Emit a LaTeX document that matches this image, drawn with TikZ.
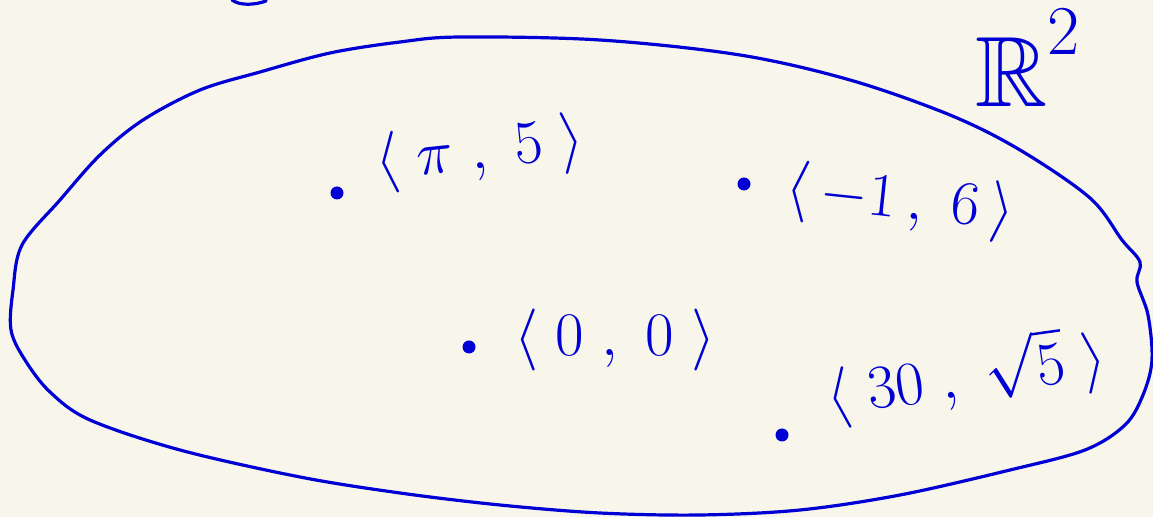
\RequirePackage{fix-cm}
\documentclass[tikz,border=0pt]{standalone}
\usepackage{amssymb}
\definecolor{ink}{RGB}{0,0,212}
\definecolor{paper}{RGB}{248,246,235}
\begin{document}
\begin{tikzpicture}[x=0.5pt,y=-0.5pt,line width=1.6pt,line cap=round,line join=round,
  dot/.style={circle,fill=ink,inner sep=0pt,minimum size=6.5pt},
  lbl/.style={text=ink,inner sep=0pt,font=\fontsize{31}{37}\selectfont}]
\fill[paper] (0,0) rectangle (1153,517);
\useasboundingbox (0,0) rectangle (1153,517);
\draw[ink] plot[smooth cycle,tension=.55] coordinates {(143,120) (200,90) (260,72) (330,53) (400,42) (460,37) (600,40) (740,55) (850,80) (950,115) (1020,150) (1090,198) (1122,240) (1140,262) (1137,282) (1148,315) (1152,360) (1143,395) (1125,425) (1085,450) (1010,470) (900,495) (800,510) (700,515) (600,513) (500,505) (400,493) (300,477) (180,450) (90,420) (50,392) (25,360) (11,330) (13,290) (22,245) (60,200) (100,155)};
\draw[ink] (232,0) .. controls (240,6) and (255,5) .. (266,1);
\node[dot] (p1) at (337,193) {};
\node[dot] (p2) at (744,184) {};
\node[dot] (p3) at (469,347) {};
\node[dot] (p4) at (782,435) {};
\node[lbl,rotate=6] (l1) at (480,153) {$\langle\;\pi\;,\;5\;\rangle$};
\node[lbl,rotate=-6] (l2) at (900,202) {$\langle\,{-}1\,,\;6\,\rangle$};
\node[lbl] (l3) at (615,340) {$\langle\;0\;,\;0\;\rangle$};
\node[lbl,rotate=8] (l4) at (966,376) {$\langle\;30\;,\;\sqrt{5}\;\rangle$};
\node[text=ink,font=\fontsize{50}{58}\selectfont] (r2) at (1028,58) {$\mathbb{R}^{\raisebox{8pt}{$\scriptstyle 2$}}$};
\end{tikzpicture}
\end{document}
